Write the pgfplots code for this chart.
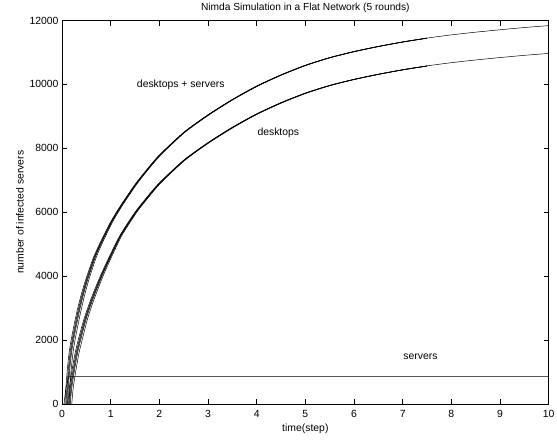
\documentclass[border=0pt]{standalone}
\usepackage{pgfplots}
\usepackage{pgfplotstable}
\pgfplotsset{compat=1.18}
\usepackage{fontspec}
\setmainfont{Liberation Sans}

\pgfplotstableread{
x y
0.06 0
0.08 500
0.11 1100
0.15 1650
0.2 2100
0.3 2850
0.4 3450
0.5 3950
0.65 4600
0.8 5100
1.0 5700
1.2 6200
1.5 6870
1.75 7350
2.0 7790
2.5 8500
3.0 9050
3.5 9530
4.0 9950
4.5 10300
5.0 10600
5.5 10840
6.0 11030
6.5 11190
7.0 11330
7.5 11450
8.0 11550
8.5 11635
9.0 11710
9.5 11780
10.0 11840
}\Tzero
\pgfplotstableread{
x y
0.08 0
0.10 500
0.13 1100
0.17 1650
0.22 2100
0.32 2850
0.418 3450
0.516 3950
0.664 4600
0.812 5100
1.01 5700
1.209 6200
1.508 6870
1.758 7350
2.007 7790
2.506 8500
3.006 9050
3.506 9530
4.006 9950
4.506 10300
5.006 10600
5.506 10840
6.006 11030
6.506 11190
7.006 11330
7.5 11449
}\Tone
\pgfplotstableread{
x y
0.095 0
0.115 500
0.145 1100
0.185 1650
0.235 2100
0.335 2850
0.4315 3450
0.528 3950
0.6745 4600
0.821 5100
1.0175 5700
1.2158 6200
1.514 6870
1.763 7350
2.0123 7790
2.5105 8500
3.0105 9050
3.5105 9530
4.0105 9950
4.5105 10300
5.0105 10600
5.5105 10840
6.0105 11030
6.5105 11190
7.0105 11330
7.5 11448
}\Ttwo
\pgfplotstableread{
x y
0.11 0
0.13 500
0.16 1100
0.2 1650
0.25 2100
0.35 2850
0.445 3450
0.54 3950
0.685 4600
0.83 5100
1.025 5700
1.2225 6200
1.52 6870
1.769 7350
2.0175 7790
2.515 8500
3.015 9050
3.515 9530
4.015 9950
4.515 10300
5.015 10600
5.515 10840
6.015 11030
6.515 11190
7.015 11330
7.5 11446
}\Tthree
\pgfplotstableread{
x y
0.14 0
0.16 500
0.19 1100
0.23 1650
0.28 2100
0.38 2850
0.472 3450
0.564 3950
0.706 4600
0.848 5100
1.04 5700
1.236 6200
1.532 6870
1.78 7350
2.028 7790
2.524 8500
3.024 9050
3.524 9530
4.024 9950
4.524 10300
5.024 10600
5.524 10840
6.024 11030
6.524 11190
7.024 11330
7.5 11445
}\Tfour

\pgfplotstableread{
x y
0.12 0
0.15 500
0.2 1000
0.27 1600
0.35 2100
0.45 2650
0.55 3100
0.65 3500
0.8 4050
1.0 4700
1.2 5300
1.5 6000
1.75 6480
2.0 6920
2.5 7630
3.0 8180
3.5 8660
4.0 9080
4.5 9430
5.0 9730
5.5 9970
6.0 10160
6.5 10320
7.0 10460
7.5 10580
8.0 10680
8.5 10765
9.0 10840
9.5 10910
10.0 10970
}\Dzero
\pgfplotstableread{
x y
0.14 0
0.17 500
0.22 1000
0.29 1600
0.37 2100
0.468 2650
0.567 3100
0.666 3500
0.814 4050
1.012 4700
1.21 5300
1.509 6000
1.758 6480
2.008 6920
2.507 7630
3.007 8180
3.507 8660
4.007 9080
4.507 9430
5.007 9730
5.507 9970
6.007 10160
6.507 10320
7.007 10460
7.5 10578
}\Done
\pgfplotstableread{
x y
0.155 0
0.185 500
0.235 1000
0.305 1600
0.385 2100
0.4815 2650
0.5798 3100
0.678 3500
0.8245 4050
1.021 4700
1.2175 5300
1.5158 6000
1.765 6480
2.014 6920
2.5123 7630
3.0123 8180
3.5123 8660
4.0123 9080
4.5123 9430
5.0123 9730
5.5123 9970
6.0123 10160
6.5123 10320
7.0123 10460
7.5 10577
}\Dtwo
\pgfplotstableread{
x y
0.17 0
0.2 500
0.25 1000
0.32 1600
0.4 2100
0.495 2650
0.5925 3100
0.69 3500
0.835 4050
1.03 4700
1.225 5300
1.5225 6000
1.771 6480
2.02 6920
2.5175 7630
3.0175 8180
3.5175 8660
4.0175 9080
4.5175 9430
5.0175 9730
5.5175 9970
6.0175 10160
6.5175 10320
7.0175 10460
7.5 10576
}\Dthree
\pgfplotstableread{
x y
0.2 0
0.23 500
0.28 1000
0.35 1600
0.43 2100
0.522 2650
0.618 3100
0.714 3500
0.856 4050
1.048 4700
1.24 5300
1.536 6000
1.784 6480
2.032 6920
2.528 7630
3.028 8180
3.528 8660
4.028 9080
4.528 9430
5.028 9730
5.528 9970
6.028 10160
6.528 10320
7.028 10460
7.5 10574
}\Dfour

\pgfplotstableread{
x y
0.04 0
0.08 500
0.14 855
10.0 855
}\Servers

\begin{document}
\begin{tikzpicture}[x=1pt,y=1pt]
\useasboundingbox (0,0) rectangle (557,440);
\begin{axis}[
  at={(62pt,36pt)}, anchor=south west,
  scale only axis, width=486.7pt, height=383.5pt,
  xmin=0, xmax=10, ymin=0, ymax=12000,
  xtick={0,1,...,10}, ytick={0,2000,4000,6000,8000,10000,12000},
  tick align=inside, xtick pos=both, ytick pos=both,
  major tick length=5pt,
  scaled y ticks=false,
  yticklabel style={/pgf/number format/.cd, fixed, 1000 sep={}},
  /pgf/number format/assume math mode=true,
  ticklabel style={font=\fontsize{10.4}{12}\selectfont},
  xticklabel style={yshift=-3pt},
  axis line style={line width=0.6pt},
  every tick/.style={line width=0.6pt, black},
  title={Nimda Simulation in a Flat Network (5 rounds)},
  title style={font=\fontsize{10.2}{12}\selectfont, at={(axis description cs:0.5,1.011)}, anchor=base},
  xlabel={time(step)},
  xlabel style={font=\fontsize{10.4}{12}\selectfont, at={(axis description cs:0.5,-0.0715)}, anchor=base},
  ylabel={number of infected servers},
  ylabel style={font=\fontsize{10.4}{12}\selectfont, at={(axis description cs:-0.079,0.5)}, anchor=base, rotate=0},
]
\addplot[black, line width=0.5pt, smooth, tension=0.4] table {\Tzero};
\addplot[black, line width=0.5pt, smooth, tension=0.4] table {\Tone};
\addplot[black, line width=0.5pt, smooth, tension=0.4] table {\Ttwo};
\addplot[black, line width=0.5pt, smooth, tension=0.4] table {\Tthree};
\addplot[black, line width=0.5pt, smooth, tension=0.4] table {\Tfour};
\addplot[black, line width=0.5pt, smooth, tension=0.4] table {\Dzero};
\addplot[black, line width=0.5pt, smooth, tension=0.4] table {\Done};
\addplot[black, line width=0.5pt, smooth, tension=0.4] table {\Dtwo};
\addplot[black, line width=0.5pt, smooth, tension=0.4] table {\Dthree};
\addplot[black, line width=0.5pt, smooth, tension=0.4] table {\Dfour};
\addplot[black, line width=0.5pt] table {\Servers};
\node[font=\fontsize{10.4}{12}\selectfont] at (axis cs:2.44,9980) {desktops + servers};
\node[font=\fontsize{10.4}{12}\selectfont] at (axis cs:4.445,8495) {desktops};
\node[font=\fontsize{10.4}{12}\selectfont] at (axis cs:7.366,1470) {servers};
\node[font=\fontsize{10.4}{12}\selectfont, anchor=base east] at (axis description cs:1,-0.0868) {x 10\textsuperscript{4}};
\end{axis}
\end{tikzpicture}
\end{document}
